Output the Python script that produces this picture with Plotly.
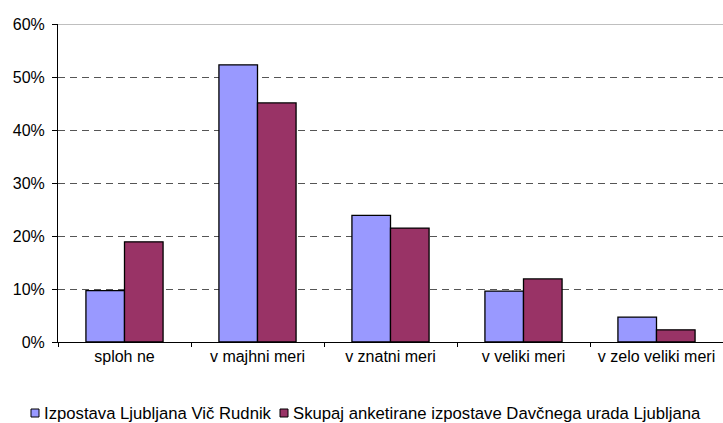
import plotly.graph_objects as go

categories = ["sploh ne", "v majhni meri", "v znatni meri", "v veliki meri", "v zelo veliki meri"]
vic_rudnik = [9.7, 52.3, 23.9, 9.6, 4.7]
du_ljubljana = [18.9, 45.1, 21.5, 11.9, 2.3]
series_names = ["Izpostava Ljubljana Vič Rudnik",
                "Skupaj anketirane izpostave Davčnega urada Ljubljana"]
series_colors = ["#9999FF", "#993366"]
y_ticks = [0, 10, 20, 30, 40, 50, 60]
y_tick_labels = ["0%", "10%", "20%", "30%", "40%", "50%", "60%"]

W, H = 723, 423
M_L, M_R, M_T, M_B = 58, 0, 24, 81
font = dict(family="Liberation Sans, Arial, sans-serif", size=16, color="#000000")
legend_font = dict(family="Liberation Sans, Arial, sans-serif", size=16.7, color="#000000")

fig = go.Figure()
for name, vals, col in zip(series_names, [vic_rudnik, du_ljubljana], series_colors):
    fig.add_trace(go.Bar(x=categories, y=vals, name=name, showlegend=False,
                         marker=dict(color=col, line=dict(color="#000000", width=1.3))))

fig.update_layout(
    width=W, height=H,
    margin=dict(l=M_L, r=M_R, t=M_T, b=M_B),
    paper_bgcolor="#FFFFFF", plot_bgcolor="#FFFFFF",
    font=font,
    barmode="group", bargap=0.42, bargroupgap=0,
)
fig.update_xaxes(showline=True, linecolor="#000000", linewidth=1,
                 ticks="outside", tickson="boundaries", ticklen=4, tickcolor="#000000",
                 showgrid=False, tickfont=font)
fig.update_yaxes(range=[0, 60], tickvals=y_ticks, ticktext=y_tick_labels,
                 showline=True, linecolor="#000000", linewidth=1,
                 ticks="outside", ticklen=5, tickcolor="#000000",
                 showgrid=True, gridcolor="#555555", griddash="7px,5px", gridwidth=1,
                 zeroline=False, tickfont=font, ticklabelstandoff=4)
# solid border along the top of the plot area
fig.add_shape(type="line", xref="paper", yref="y", x0=0, x1=1, y0=60, y1=60,
              line=dict(color="#808080", width=1))

# legend row below the plot: small outlined swatch followed by the series name
plot_w = W - M_L - M_R
plot_h = H - M_T - M_B

def px_to_paper_x(px):
    return (px - M_L) / plot_w

def px_to_paper_y(py):
    return (H - M_B - py) / plot_h

legend_y = 413
swatch = 8
item_x = [31, 280]
for x0, name, col in zip(item_x, series_names, series_colors):
    fig.add_shape(type="rect", xref="paper", yref="paper",
                  x0=px_to_paper_x(x0), x1=px_to_paper_x(x0 + swatch),
                  y0=px_to_paper_y(legend_y - swatch / 2), y1=px_to_paper_y(legend_y + swatch / 2),
                  fillcolor=col, line=dict(color="#000000", width=1))
    fig.add_annotation(xref="paper", yref="paper", x=px_to_paper_x(x0 + swatch + 3),
                       y=px_to_paper_y(legend_y), xanchor="left", yanchor="middle",
                       text=name, showarrow=False, font=legend_font)

fig.write_html("out.html")
